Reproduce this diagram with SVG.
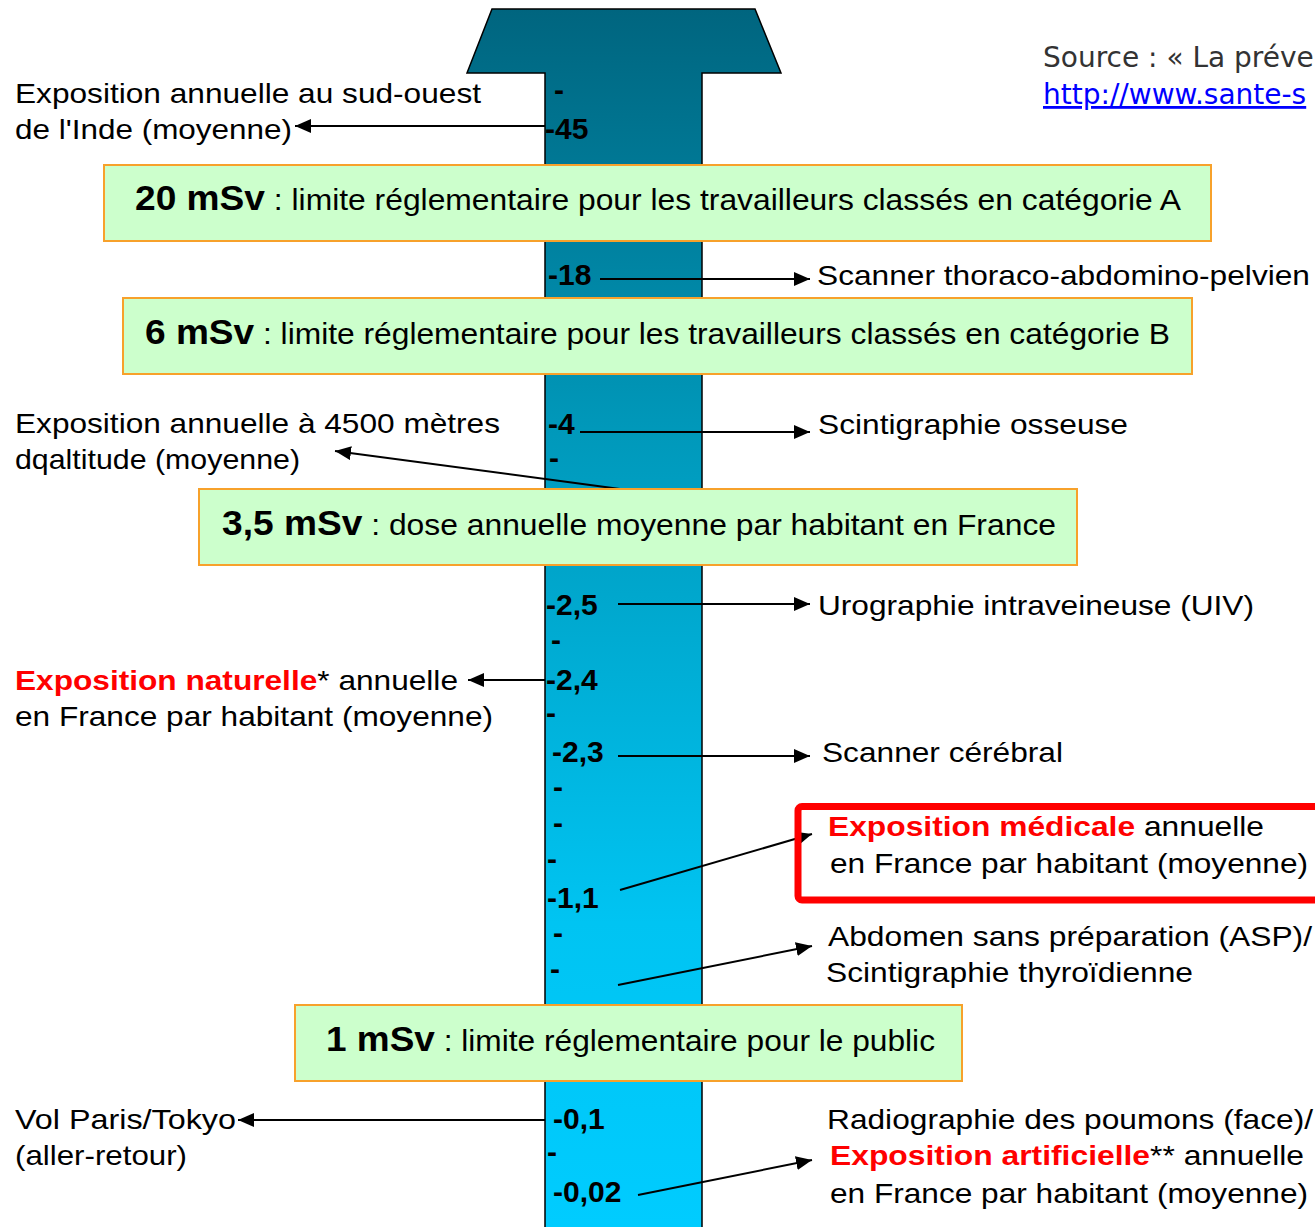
<svg xmlns="http://www.w3.org/2000/svg" width="1315" height="1227" viewBox="0 0 1315 1227">
<defs>
<linearGradient id="shaft" gradientUnits="userSpaceOnUse" x1="0" y1="9" x2="0" y2="1227">
<stop offset="0" stop-color="#00657F"/>
<stop offset="0.35" stop-color="#0099BB"/>
<stop offset="0.75" stop-color="#00C4F2"/>
<stop offset="1" stop-color="#00CCFF"/>
</linearGradient>
<marker id="ah" markerUnits="userSpaceOnUse" markerWidth="17" markerHeight="14" refX="16" refY="7" orient="auto">
<path d="M0,0 L16,7 L0,14 Z" fill="#000"/>
</marker>
<style>
.lbl{font-family:"Liberation Sans",Arial,sans-serif;font-size:28px;fill:#000}
.num{font-family:"Liberation Sans",Arial,sans-serif;font-size:30px;font-weight:bold;fill:#000}
.red{fill:#FF0000;font-weight:bold}
.box{fill:#CCFFCC;stroke:#F7A12B;stroke-width:2}
.btxt{font-family:"Liberation Sans",Arial,sans-serif;font-size:30px;fill:#000}
.bb{font-weight:bold;font-size:35px}
.con{stroke:#000;stroke-width:2;fill:none;marker-end:url(#ah)}
.src{font-family:"DejaVu Sans",Verdana,sans-serif;font-size:28px;fill:#333}
.link{font-family:"DejaVu Sans",Verdana,sans-serif;font-size:28px;fill:#0000FF;text-decoration:underline}
</style>
</defs>
<rect width="1315" height="1227" fill="#fff"/>
<g id="scale-arrow">
<path d="M492,9 L755,9 L781,73 L702,73 L702,1232 L545,1232 L545,73 L467,73 Z" fill="url(#shaft)" stroke="#000" stroke-width="1.5"/>
</g>
<g id="scale-labels">
<text class="num" x="554" y="100">-</text>
<text class="num" x="545" y="139">-45</text>
<text class="num" x="548" y="285">-18</text>
<text class="num" x="548" y="434">-4</text>
<text class="num" x="549" y="468">-</text>
<text class="num" x="546" y="615">-2,5</text>
<text class="num" x="551" y="650">-</text>
<text class="num" x="546" y="690">-2,4</text>
<text class="num" x="546" y="723">-</text>
<text class="num" x="552" y="762">-2,3</text>
<text class="num" x="553" y="797">-</text>
<text class="num" x="553" y="833">-</text>
<text class="num" x="547" y="869">-</text>
<text class="num" x="547" y="908">-1,1</text>
<text class="num" x="553" y="943">-</text>
<text class="num" x="550" y="979">-</text>
<text class="num" x="553" y="1129">-0,1</text>
<text class="num" x="547" y="1162">-</text>
<text class="num" x="553" y="1202">-0,02</text>
</g>
<g id="source">
<text class="src" x="1043" y="67">Source : « La préve</text>
<text class="link" x="1043" y="104">http://www.sante-s</text>
</g>
<g id="connectors">
<line class="con" x1="545" y1="126" x2="295" y2="126"/>
<line class="con" x1="600" y1="279" x2="810" y2="279"/>
<line class="con" x1="580" y1="432" x2="810" y2="432"/>
<line class="con" x1="620" y1="489" x2="335" y2="451"/>
<line class="con" x1="618" y1="604" x2="810" y2="604"/>
<line class="con" x1="545" y1="680" x2="468" y2="680"/>
<line class="con" x1="618" y1="756" x2="810" y2="756"/>
<line class="con" x1="620" y1="890" x2="812" y2="834"/>
<line class="con" x1="618" y1="985" x2="812" y2="946"/>
<line class="con" x1="545" y1="1120" x2="238" y2="1120"/>
<line class="con" x1="638" y1="1195" x2="812" y2="1160"/>
</g>
<g id="box-20msv">
<rect class="box" x="104" y="165" width="1107" height="76"/>
<text class="btxt" x="135" y="210" textLength="1046" lengthAdjust="spacingAndGlyphs"><tspan class="bb">20 mSv</tspan> : limite réglementaire pour les travailleurs classés en catégorie A</text>
</g>
<g id="box-6msv">
<rect class="box" x="123" y="298" width="1069" height="76"/>
<text class="btxt" x="145" y="344" textLength="1025" lengthAdjust="spacingAndGlyphs"><tspan class="bb">6 mSv</tspan> : limite réglementaire pour les travailleurs classés en catégorie B</text>
</g>
<g id="box-3-5msv">
<rect class="box" x="199" y="489" width="878" height="76"/>
<text class="btxt" x="222" y="535" textLength="834" lengthAdjust="spacingAndGlyphs"><tspan class="bb">3,5 mSv</tspan> : dose annuelle moyenne par habitant en France</text>
</g>
<g id="box-1msv">
<rect class="box" x="295" y="1005" width="667" height="76"/>
<text class="btxt" x="326" y="1051" textLength="609" lengthAdjust="spacingAndGlyphs"><tspan class="bb">1 mSv</tspan> : limite réglementaire pour le public</text>
</g>
<g id="label-inde">
<text class="lbl" x="15" y="103" textLength="466" lengthAdjust="spacingAndGlyphs">Exposition annuelle au sud-ouest</text>
<text class="lbl" x="15" y="139" textLength="277" lengthAdjust="spacingAndGlyphs">de l'Inde (moyenne)</text>
</g>
<g id="label-altitude">
<text class="lbl" x="15" y="433" textLength="485" lengthAdjust="spacingAndGlyphs">Exposition annuelle à 4500 mètres</text>
<text class="lbl" x="15" y="469" textLength="285" lengthAdjust="spacingAndGlyphs">dqaltitude (moyenne)</text>
</g>
<g id="label-naturelle">
<text class="lbl" x="15" y="690" textLength="443" lengthAdjust="spacingAndGlyphs"><tspan class="red">Exposition naturelle</tspan>* annuelle</text>
<text class="lbl" x="15" y="726" textLength="478" lengthAdjust="spacingAndGlyphs">en France par habitant (moyenne)</text>
</g>
<g id="label-vol">
<text class="lbl" x="15" y="1129" textLength="221" lengthAdjust="spacingAndGlyphs">Vol Paris/Tokyo</text>
<text class="lbl" x="15" y="1165" textLength="172" lengthAdjust="spacingAndGlyphs">(aller-retour)</text>
</g>
<g id="label-scanner-tap">
<text class="lbl" x="817" y="285" textLength="493" lengthAdjust="spacingAndGlyphs">Scanner thoraco-abdomino-pelvien</text>
</g>
<g id="label-scinti-osseuse">
<text class="lbl" x="818" y="434" textLength="310" lengthAdjust="spacingAndGlyphs">Scintigraphie osseuse</text>
</g>
<g id="label-uiv">
<text class="lbl" x="818" y="615" textLength="436" lengthAdjust="spacingAndGlyphs">Urographie intraveineuse (UIV)</text>
</g>
<g id="label-scanner-cerebral">
<text class="lbl" x="822" y="762" textLength="241" lengthAdjust="spacingAndGlyphs">Scanner cérébral</text>
</g>
<g id="label-medicale">
<rect x="798" y="806.5" width="600" height="93.5" rx="4" fill="none" stroke="#FF0000" stroke-width="7"/>
<text class="lbl" x="828" y="836" textLength="436" lengthAdjust="spacingAndGlyphs"><tspan class="red">Exposition médicale</tspan> annuelle</text>
<text class="lbl" x="830" y="873" textLength="478" lengthAdjust="spacingAndGlyphs">en France par habitant (moyenne)</text>
</g>
<g id="label-asp">
<text class="lbl" x="828" y="946" textLength="484" lengthAdjust="spacingAndGlyphs">Abdomen sans préparation (ASP)/</text>
<text class="lbl" x="826" y="982" textLength="367" lengthAdjust="spacingAndGlyphs">Scintigraphie thyroïdienne</text>
</g>
<g id="label-radio">
<text class="lbl" x="827" y="1129" textLength="486" lengthAdjust="spacingAndGlyphs">Radiographie des poumons (face)/</text>
<text class="lbl" x="830" y="1165" textLength="474" lengthAdjust="spacingAndGlyphs"><tspan class="red">Exposition artificielle</tspan>** annuelle</text>
<text class="lbl" x="830" y="1203" textLength="478" lengthAdjust="spacingAndGlyphs">en France par habitant (moyenne)</text>
</g>
</svg>
